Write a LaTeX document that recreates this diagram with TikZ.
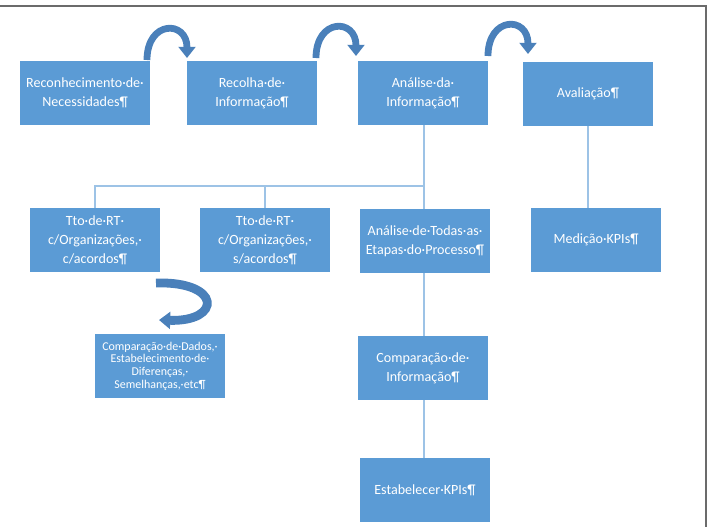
\documentclass[tikz,border=0pt]{standalone}
\usepackage{fontspec}
\setmainfont{Carlito}
\usepackage{tikz}
\usetikzlibrary{arrows.meta}

\definecolor{boxblue}{HTML}{5B9BD5}
\definecolor{linkblue}{HTML}{9DC3E6}
\definecolor{curveblue}{HTML}{4A80BA}
\definecolor{framegray}{HTML}{6B6B6B}

\tikzset{
    stage/.style={rectangle, fill=boxblue, text=white, align=center, inner sep=0pt,
        minimum width=3.25cm, minimum height=1.6cm, font=\fontsize{10}{13.5}\selectfont},
    stagesmall/.style={stage, font=\fontsize{8.5}{9}\selectfont},
    link/.style={draw=linkblue, line width=0.9pt},
    turn/.style={draw=curveblue, line width=0.17cm, -{Triangle[width=0.42cm, length=0.28cm]}}
}

\begin{document}
\begin{tikzpicture}[x=0.025cm, y=-0.025cm]
    \useasboundingbox (0, 0) rectangle (709, 527);
    \draw[framegray, line width=1.5pt] (0, 6) -- (706, 6) -- (706, 527);

    \node[stage] at (85, 93) (recon) {Reconhecimento·de·\\Necessidades¶};
    \node[stage] at (252, 93) (recolha) {Recolha·de·\\Informação¶};
    \node[stage] at (423, 93) (analise) {Análise·da·\\Informação¶};
    \node[stage] at (588, 94) (aval) {Avaliação¶};

    \node[stage] at (95, 240) (ttoC) {Tto·de·RT·\\c/Organizações,·\\c/acordos¶};
    \node[stage] at (265, 240) (ttoS) {Tto·de·RT·\\c/Organizações,·\\s/acordos¶};
    \node[stage] at (425, 241) (etapas) {Análise·de·Todas·as·\\Etapas·do·Processo¶};
    \node[stage] at (596, 240) (kpis) {Medição·KPIs¶};

    \node[stagesmall] at (160, 366) (dados) {Comparação·de·Dados,·\\Estabelecimento·de·\\Diferenças,·\\Semelhanças,·etc¶};
    \node[stage] at (423, 368) (compinfo) {Comparação·de·\\Informação¶};
    \node[stage] at (425, 490) (estab) {Estabelecer·KPIs¶};

    \coordinate (split) at (424, 186);
    \draw[link] (analise.south -| split) -- (split);
    \draw[link] (split) -| (ttoC.north);
    \draw[link] (split) -| (ttoS.north);
    \draw[link] (split) -- (etapas.north -| split);
    \draw[link] (aval.south) -- (aval.south |- kpis.north);
    \draw[link] (etapas.south -| split) -- (compinfo.north -| split);
    \draw[link] (compinfo.south -| split) -- (estab.north -| split);

    \coordinate (a1s) at (147, 60);
    \coordinate (a1e) at (187, 58);
    \coordinate (a2s) at (316, 58);
    \coordinate (a2e) at (356, 56);
    \coordinate (a3s) at (488, 56);
    \coordinate (a3e) at (528, 54);
    \coordinate (a4s) at (156, 283);
    \coordinate (a4e) at (159, 320);

    \draw[turn] (a1s) .. controls (147, 20) and (187, 20) .. (a1e);
    \draw[turn] (a2s) .. controls (316, 18) and (356, 18) .. (a2e);
    \draw[turn] (a3s) .. controls (488, 16) and (528, 16) .. (a3e);
    \draw[turn, line width=0.22cm] (a4s) .. controls (222, 281) and (222, 322) .. (a4e);
\end{tikzpicture}
\end{document}
